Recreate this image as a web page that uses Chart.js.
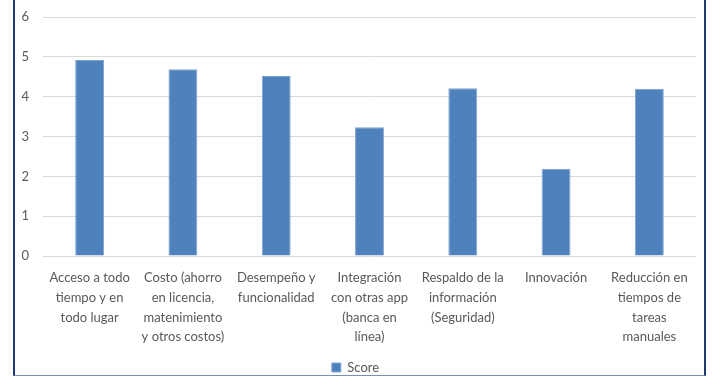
<!DOCTYPE html>
<html>
<head>
<meta charset="utf-8">
<script src="https://cdn.jsdelivr.net/npm/chart.js@4.4.0/dist/chart.umd.min.js"></script>
<style>
  html, body { margin: 0; padding: 0; background: #fff; }
  #wrap { position: relative; width: 712px; height: 377px; }
  #frame {
    position: absolute; left: 13px; top: -2px; width: 693px; height: 378px;
    border-left: 2px solid #1F3A6E; border-right: 2px solid #1F3A6E;
    border-bottom: 1px solid #7A8FB5; box-sizing: border-box; pointer-events: none;
  }
</style>
</head>
<body>
<div id="wrap">
  <canvas id="chart" width="712" height="377"></canvas>
  <div id="frame"></div>
</div>
<script>
// Categories, split into the lines they are printed on
const categories = [
    ['Acceso a todo', 'tiempo y en', 'todo lugar'],
    ['Costo (ahorro', 'en licencia,', 'matenimiento', 'y otros costos)'],
    ['Desempeño y', 'funcionalidad'],
    ['Integración', 'con otras app', '(banca en', 'línea)'],
    ['Respaldo de la', 'información', '(Seguridad)'],
    ['Innovación'],
    ['Reducción en', 'tiempos de', 'tareas', 'manuales']
];
const scores = [4.92, 4.69, 4.52, 3.23, 4.21, 2.19, 4.2];
const yTicks = [0, 1, 2, 3, 4, 5, 6];

const textColor = '#595959';
const barColor = '#4F81BD';

const ctx = document.getElementById('chart');
new Chart(ctx, {
    type: 'bar',
    data: {
        labels: categories,
        datasets: [{
            label: 'Score',
            data: scores,
            backgroundColor: barColor,
            borderColor: '#7FA3D1',
            borderWidth: 1,
            barPercentage: 0.31,
            categoryPercentage: 1
        }]
    },
    options: {
        responsive: false,
        animation: false,
        // negative bottom padding pushes the legend down to the frame edge
        layout: { padding: { left: 15, right: 16, top: 17, bottom: -7 } },
        scales: {
            x: {
                grid: { display: false, drawTicks: false },
                border: { display: false },
                ticks: {
                    color: textColor,
                    font: { family: 'Lato', size: 13, lineHeight: 1.52 },
                    padding: 12,
                    maxRotation: 0,
                    autoSkip: false
                },
                afterFit: function(scale) { scale.height = 105; }
            },
            y: {
                min: 0,
                max: 6,
                afterBuildTicks: function(scale) {
                    scale.ticks = yTicks.map(v => ({ value: v }));
                },
                grid: { color: '#D9D9D9', lineWidth: 1, drawTicks: false },
                border: { display: false },
                ticks: {
                    color: textColor,
                    font: { family: 'Lato', size: 13 },
                    padding: 14
                },
                afterFit: function(scale) {
                    scale.width = 28;
                    // the layout padding already leaves room for the top label
                    scale.paddingTop = 0;
                    scale.paddingBottom = 0;
                }
            }
        },
        plugins: {
            legend: {
                position: 'bottom',
                labels: {
                    color: textColor,
                    font: { family: 'Lato', size: 13 },
                    boxWidth: 9,
                    boxHeight: 9,
                    padding: 0
                }
            },
            tooltip: { enabled: false }
        }
    }
});
</script>
</body>
</html>
